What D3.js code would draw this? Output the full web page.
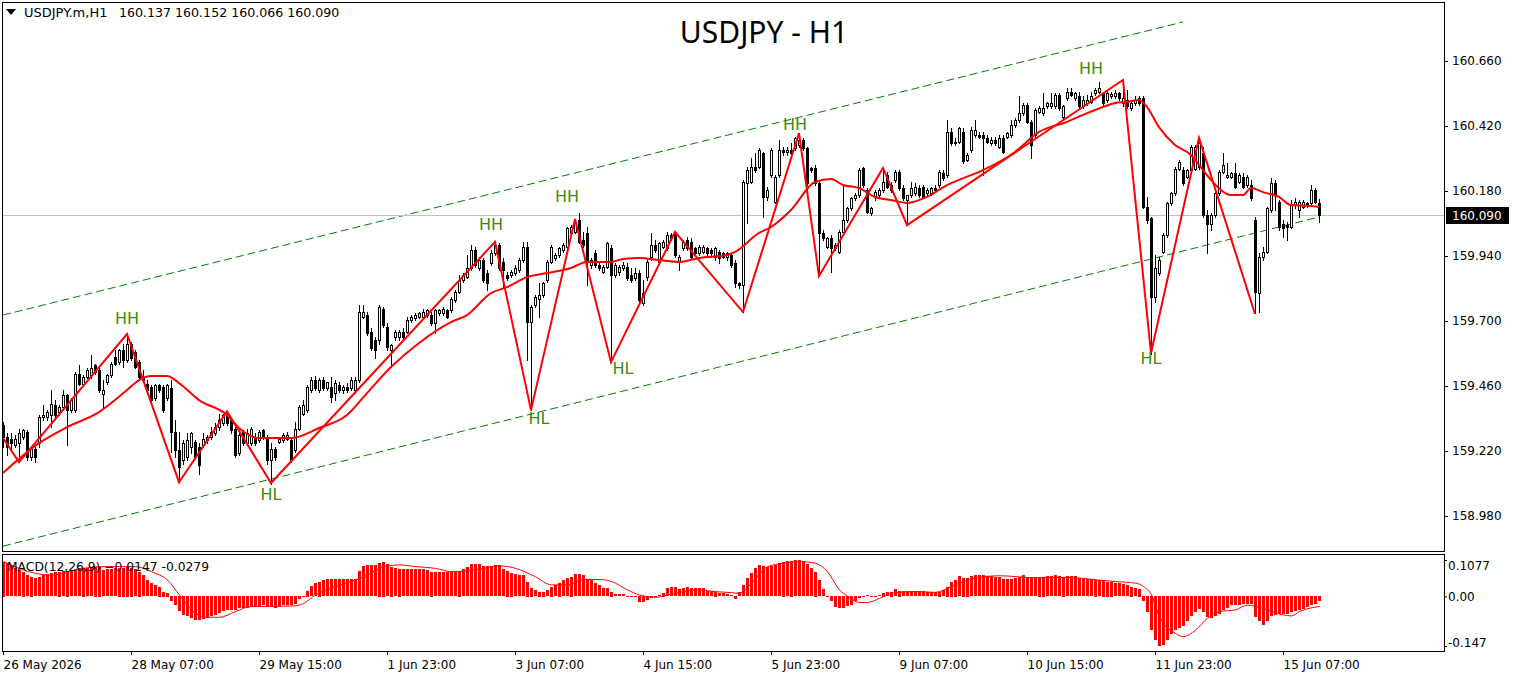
<!DOCTYPE html>
<html>
<head>
<meta charset="utf-8">
<script src="https://cdn.jsdelivr.net/npm/d3@7"></script>
<style>
  body { margin: 0; background: #fff; }
  svg text { font-family: "DejaVu Sans", Verdana, sans-serif; }
</style>
</head>
<body>
<div id="chart"></div>
<script>
// ---- data (USDJPY.m H1, bar 0 = 26 May 23:00) ----
const open = [
159.315,159.272,159.266,159.242,159.248,159.272,159.291,159.198,159.229,159.248,
159.346,159.346,159.352,159.389,159.365,159.383,159.426,159.371,159.371,159.506,
159.469,159.494,159.500,159.537,159.518,159.432,159.475,159.500,159.568,159.549,
159.592,159.555,159.617,159.586,159.549,159.494,159.469,159.457,159.414,159.463,
159.457,159.414,159.451,159.291,159.223,159.186,159.198,159.235,159.254,159.235,
159.242,159.260,159.272,159.285,159.309,159.322,159.358,159.340,159.303,159.211,
159.291,159.248,159.248,159.272,159.260,159.297,159.272,159.186,159.229,159.254,
159.260,159.266,159.260,159.223,159.303,159.358,159.371,159.445,159.484,159.445,
159.482,159.451,159.457,159.433,159.463,159.445,159.457,159.451,159.445,159.482,
159.716,159.722,159.660,159.630,159.630,159.746,159.679,159.593,159.642,159.642,
159.660,159.660,159.703,159.710,159.716,159.716,159.722,159.722,159.691,159.728,
159.728,159.740,159.740,159.777,159.808,159.851,159.863,159.894,159.962,159.894,
159.925,159.876,159.913,159.950,159.980,159.919,159.870,159.870,159.876,159.888,
159.925,159.974,159.697,159.759,159.783,159.796,159.851,159.919,159.931,159.944,
159.962,159.974,160.024,160.030,160.073,159.999,160.024,159.907,159.950,159.907,
159.882,159.900,159.968,159.870,159.882,159.894,159.900,159.870,159.857,159.876,
159.765,159.863,159.937,159.980,159.919,159.974,159.968,160.017,160.024,159.919,
159.968,159.999,159.993,159.968,159.950,159.956,159.968,159.962,159.937,159.956,
159.950,159.937,159.944,159.913,159.839,159.833,160.208,160.214,160.270,160.270,
160.319,160.159,160.239,160.141,160.239,160.331,160.325,160.331,160.337,160.350,
160.368,160.337,160.264,160.264,160.208,160.024,159.974,160.005,159.968,159.956,
160.030,160.073,160.116,160.153,160.165,160.264,160.184,160.097,160.159,160.165,
160.184,160.239,160.202,160.221,160.251,160.190,160.147,160.165,160.171,160.190,
160.196,160.171,160.171,160.190,160.202,160.245,160.239,160.399,160.356,160.362,
160.399,160.295,160.332,160.387,160.387,160.387,160.375,160.356,160.369,160.344,
160.375,160.381,160.387,160.424,160.442,160.467,160.498,160.436,160.387,160.473,
160.467,160.492,160.492,160.492,160.535,160.455,160.522,160.547,160.522,160.529,
160.492,160.504,160.510,160.541,160.547,160.541,160.516,160.531,160.529,160.541,
160.504,160.516,160.485,160.504,160.522,160.522,160.122,160.079,159.790,159.876,
159.956,160.017,160.134,160.171,160.263,160.257,160.233,160.257,160.263,160.270,
160.319,160.091,160.060,160.091,160.171,160.251,160.233,160.233,160.245,160.214,
160.233,160.202,160.202,160.073,159.802,159.937,159.956,160.110,160.208,160.140,
160.060,160.054,160.048,160.128,160.110,160.122,160.134,160.134,160.184,160.137];
const high = [
159.328,159.285,159.285,159.278,159.303,159.303,159.297,159.235,159.235,159.352,
159.389,159.371,159.445,159.408,159.389,159.445,159.432,159.414,159.512,159.537,
159.500,159.525,159.574,159.543,159.525,159.482,159.506,159.549,159.592,159.598,
159.617,159.650,159.623,159.592,159.555,159.518,159.482,159.463,159.469,159.469,
159.463,159.469,159.482,159.334,159.291,159.260,159.285,159.291,159.260,159.248,
159.285,159.278,159.309,159.322,159.358,159.358,159.368,159.346,159.309,159.285,
159.297,159.303,159.309,159.285,159.297,159.303,159.278,159.248,159.235,159.272,
159.285,159.291,159.266,159.328,159.389,159.408,159.463,159.494,159.496,159.488,
159.494,159.476,159.494,159.482,159.476,159.463,159.470,159.494,159.494,159.759,
159.759,159.734,159.673,159.642,159.759,159.753,159.691,159.617,159.666,159.666,
159.673,159.716,159.722,159.728,159.734,159.746,159.746,159.734,159.746,159.746,
159.753,159.746,159.790,159.814,159.870,159.876,159.944,159.980,159.974,159.937,
159.931,159.888,159.962,159.993,159.987,159.931,159.882,159.888,159.907,159.931,
159.993,159.993,159.759,159.796,159.839,159.845,159.925,159.980,159.950,159.974,
159.987,160.048,160.054,160.075,160.097,160.030,160.048,159.931,159.962,159.919,
159.907,159.993,159.980,159.913,159.907,159.919,159.913,159.894,159.894,159.888,
159.851,159.925,160.024,159.999,159.993,159.999,160.030,160.024,160.030,159.944,
159.999,160.011,160.005,159.974,159.980,159.980,159.974,159.968,159.974,159.962,
159.956,159.956,159.950,159.925,159.845,160.221,160.270,160.301,160.319,160.337,
160.325,160.196,160.337,160.239,160.368,160.344,160.344,160.356,160.381,160.393,
160.374,160.344,160.270,160.276,160.214,160.036,160.011,160.017,159.987,160.036,
160.202,160.122,160.159,160.171,160.264,160.270,160.190,160.122,160.184,160.190,
160.266,160.251,160.214,160.257,160.257,160.202,160.165,160.214,160.208,160.202,
160.202,160.190,160.196,160.202,160.257,160.257,160.442,160.411,160.374,160.418,
160.412,160.319,160.418,160.442,160.399,160.399,160.387,160.381,160.381,160.387,
160.387,160.399,160.442,160.448,160.529,160.504,160.504,160.442,160.485,160.492,
160.541,160.510,160.541,160.541,160.541,160.498,160.559,160.559,160.547,160.547,
160.529,160.535,160.547,160.559,160.584,160.547,160.553,160.547,160.553,160.547,
160.590,160.553,160.510,160.529,160.529,160.529,160.159,160.085,159.944,159.937,
160.024,160.140,160.177,160.270,160.294,160.270,160.263,160.350,160.350,160.374,
160.344,160.110,160.097,160.177,160.257,160.319,160.282,160.251,160.282,160.245,
160.245,160.239,160.220,160.085,159.950,159.974,160.122,160.227,160.220,160.147,
160.073,160.067,160.147,160.153,160.147,160.147,160.140,160.202,160.190,160.152];
const low = [
159.235,159.205,159.229,159.235,159.179,159.266,159.186,159.186,159.180,159.235,
159.334,159.334,159.309,159.346,159.352,159.377,159.242,159.365,159.365,159.463,
159.463,159.488,159.488,159.506,159.438,159.383,159.469,159.494,159.537,159.543,
159.531,159.549,159.555,159.525,159.482,159.475,159.432,159.402,159.408,159.438,
159.365,159.408,159.217,159.198,159.106,159.174,159.186,159.211,159.192,159.137,
159.235,159.248,159.266,159.278,159.297,159.315,159.315,159.285,159.198,159.205,
159.242,159.242,159.242,159.242,159.254,159.266,159.174,159.100,159.186,159.248,
159.254,159.260,159.180,159.217,159.297,159.352,159.365,159.438,159.445,159.438,
159.445,159.445,159.402,159.408,159.439,159.433,159.439,159.445,159.433,159.476,
159.710,159.648,159.593,159.562,159.617,159.679,159.593,159.531,159.630,159.630,
159.636,159.654,159.697,159.703,159.710,159.710,159.716,159.685,159.654,159.722,
159.722,159.710,159.734,159.771,159.802,159.845,159.857,159.888,159.900,159.888,
159.845,159.814,159.907,159.944,159.888,159.826,159.851,159.863,159.870,159.882,
159.919,159.556,159.371,159.753,159.716,159.790,159.845,159.913,159.925,159.937,
159.956,159.968,160.018,160.024,159.987,159.974,159.833,159.894,159.900,159.888,
159.876,159.894,159.550,159.863,159.870,159.888,159.851,159.845,159.851,159.759,
159.759,159.851,159.925,159.956,159.913,159.968,159.962,159.999,159.937,159.888,
159.962,159.962,159.931,159.944,159.944,159.950,159.944,159.937,159.925,159.913,
159.931,159.925,159.900,159.827,159.821,159.734,160.061,160.208,160.251,160.264,
160.085,160.147,160.233,160.134,160.233,160.313,160.313,160.307,160.331,160.344,
160.331,160.202,160.251,160.202,159.866,159.999,159.968,159.882,159.962,159.950,
160.024,160.067,160.110,160.147,160.159,160.196,160.097,160.091,160.147,160.159,
160.178,160.190,160.178,160.214,160.184,160.147,160.054,160.159,160.165,160.159,
160.153,160.165,160.165,160.178,160.196,160.221,160.233,160.350,160.350,160.356,
160.282,160.289,160.325,160.381,160.375,160.239,160.356,160.350,160.350,160.338,
160.319,160.375,160.381,160.418,160.436,160.461,160.430,160.301,160.381,160.467,
160.461,160.485,160.485,160.485,160.479,160.449,160.516,160.529,160.516,160.485,
160.485,160.498,160.504,160.535,160.541,160.498,160.510,160.522,160.522,160.516,
160.492,160.485,160.479,160.498,160.498,160.116,160.061,159.580,159.771,159.870,
159.950,160.011,160.128,160.165,160.257,160.202,160.227,160.251,160.257,160.263,
160.085,159.950,160.036,160.085,160.165,160.245,160.227,160.227,160.190,160.208,
160.190,160.196,160.147,159.728,159.734,159.925,159.950,160.104,160.110,160.036,
160.011,159.999,160.042,160.116,160.085,160.116,160.122,160.128,160.134,160.066];
const close = [
159.272,159.235,159.248,159.266,159.285,159.297,159.198,159.229,159.198,159.346,
159.352,159.365,159.395,159.352,159.383,159.426,159.371,159.408,159.506,159.469,
159.494,159.518,159.525,159.512,159.445,159.447,159.500,159.543,159.543,159.592,
159.555,159.617,159.562,159.531,159.494,159.482,159.445,159.408,159.463,159.445,
159.371,159.463,159.291,159.223,159.162,159.248,159.260,159.285,159.198,159.168,
159.266,159.272,159.291,159.309,159.334,159.352,159.322,159.297,159.205,159.278,
159.248,159.285,159.303,159.248,159.291,159.272,159.186,159.229,159.198,159.266,
159.278,159.278,159.186,159.303,159.383,159.389,159.457,159.482,159.451,159.482,
159.451,159.476,159.420,159.470,159.445,159.457,159.445,159.484,159.482,159.734,
159.734,159.654,159.599,159.593,159.753,159.685,159.605,159.611,159.660,159.660,
159.642,159.703,159.716,159.722,159.728,159.734,159.740,159.691,159.740,159.740,
159.746,159.716,159.783,159.808,159.851,159.870,159.894,159.962,159.907,159.925,
159.851,159.839,159.950,159.980,159.894,159.888,159.857,159.882,159.894,159.925,
159.974,159.697,159.753,159.790,159.796,159.839,159.919,159.974,159.944,159.968,
159.980,160.042,160.048,160.067,159.993,159.980,159.919,159.925,159.907,159.894,
159.900,159.987,159.870,159.907,159.900,159.907,159.857,159.851,159.876,159.777,
159.802,159.919,159.980,159.962,159.987,159.993,160.017,160.005,159.944,159.937,
159.993,159.968,159.937,159.950,159.974,159.974,159.950,159.950,159.968,159.931,
159.937,159.950,159.907,159.839,159.833,160.214,160.257,160.270,160.257,160.331,
160.159,160.184,160.331,160.233,160.331,160.325,160.331,160.319,160.374,160.368,
160.337,160.208,160.257,160.208,160.024,160.005,160.005,159.968,159.980,160.030,
160.073,160.116,160.153,160.165,160.257,160.202,160.104,160.116,160.178,160.184,
160.214,160.196,160.184,160.251,160.190,160.153,160.165,160.190,160.196,160.165,
160.159,160.184,160.190,160.184,160.251,160.227,160.399,160.356,160.362,160.411,
160.289,160.313,160.405,160.405,160.381,160.375,160.362,160.369,160.356,160.375,
160.325,160.393,160.424,160.442,160.467,160.498,160.436,160.350,160.479,160.485,
160.485,160.504,160.504,160.535,160.485,160.492,160.547,160.535,160.541,160.492,
160.516,160.516,160.529,160.553,160.559,160.504,160.541,160.537,160.541,160.522,
160.522,160.492,160.504,160.516,160.504,160.122,160.073,159.790,159.894,159.925,
160.017,160.134,160.171,160.263,160.288,160.208,160.257,160.344,160.344,160.356,
160.091,160.060,160.091,160.171,160.251,160.276,160.239,160.245,160.196,160.239,
160.196,160.233,160.153,159.808,159.937,159.956,160.116,160.208,160.165,160.048,
160.042,160.048,160.128,160.140,160.140,160.140,160.128,160.184,160.140,160.090];

// MACD(12,26,9) main histogram, one value per bar
const macd = [
0.103,0.098,0.093,0.083,0.078,0.073,0.063,0.058,0.053,0.056,
0.063,0.066,0.068,0.071,0.073,0.075,0.076,0.078,0.081,0.083,
0.085,0.083,0.086,0.088,0.088,0.078,0.080,0.081,0.083,0.085,
0.085,0.088,0.085,0.080,0.073,0.063,0.048,0.039,0.034,0.029,
0.014,0.011,-0.014,-0.026,-0.045,-0.055,-0.058,-0.065,-0.072,-0.072,
-0.068,-0.065,-0.060,-0.055,-0.050,-0.045,-0.042,-0.040,-0.040,-0.037,
-0.037,-0.035,-0.030,-0.030,-0.030,-0.028,-0.030,-0.033,-0.035,-0.030,
-0.028,-0.028,-0.028,-0.023,-0.009,-0.003,0.017,0.031,0.039,0.044,
0.048,0.050,0.050,0.050,0.050,0.050,0.050,0.050,0.050,0.075,
0.090,0.093,0.093,0.093,0.100,0.103,0.096,0.088,0.083,0.082,
0.081,0.081,0.081,0.081,0.080,0.080,0.078,0.073,0.072,0.072,
0.072,0.072,0.072,0.072,0.076,0.080,0.086,0.096,0.096,0.096,
0.090,0.090,0.090,0.093,0.093,0.080,0.076,0.070,0.066,0.063,
0.063,0.044,0.026,0.019,0.014,0.014,0.019,0.029,0.034,0.041,
0.047,0.054,0.058,0.065,0.065,0.063,0.051,0.051,0.039,0.034,
0.024,0.024,0.014,0.007,0.007,0.006,0.002,-0.001,-0.003,-0.019,
-0.019,-0.013,-0.006,-0.001,0.004,0.011,0.024,0.027,0.027,0.021,
0.024,0.027,0.024,0.024,0.024,0.024,0.016,0.016,0.014,0.009,
0.009,0.007,0.004,-0.009,0.012,0.034,0.053,0.068,0.083,0.093,
0.090,0.086,0.090,0.093,0.098,0.103,0.105,0.106,0.108,0.108,
0.105,0.095,0.083,0.073,0.047,0.021,0.002,-0.016,-0.032,-0.035,
-0.035,-0.030,-0.026,-0.016,-0.006,-0.001,0.004,-0.001,0.001,0.004,
0.011,0.012,0.014,0.021,0.017,0.016,0.016,0.016,0.016,0.016,
0.016,0.012,0.012,0.012,0.014,0.019,0.029,0.044,0.049,0.060,
0.055,0.055,0.060,0.063,0.063,0.063,0.060,0.060,0.056,0.056,
0.051,0.051,0.051,0.053,0.056,0.063,0.056,0.056,0.056,0.058,
0.058,0.060,0.060,0.063,0.060,0.055,0.060,0.060,0.060,0.053,
0.051,0.051,0.051,0.049,0.047,0.046,0.044,0.043,0.039,0.039,
0.036,0.034,0.029,0.024,0.023,-0.016,-0.048,-0.100,-0.129,-0.147,
-0.144,-0.131,-0.114,-0.100,-0.095,-0.088,-0.075,-0.060,-0.048,-0.038,
-0.048,-0.062,-0.065,-0.060,-0.052,-0.042,-0.035,-0.028,-0.026,-0.026,
-0.024,-0.023,-0.024,-0.062,-0.075,-0.085,-0.075,-0.060,-0.055,-0.052,
-0.052,-0.053,-0.047,-0.045,-0.040,-0.038,-0.033,-0.028,-0.024,-0.0147];

// MACD signal line, read at [bar, value]
const signalPts = [
[0,0.103],[8,0.068],[12,0.063],[20,0.083],[24,0.088],[33,0.088],[37,0.073],[41,0.048],
[44,0.004],[48,-0.050],[51,-0.062],[54,-0.062],[58,-0.045],[62,-0.030],[66,-0.030],
[73,-0.028],[75,-0.021],[78,0.004],[83,0.029],[87,0.044],[91,0.063],[95,0.088],
[99,0.093],[103,0.088],[108,0.083],[112,0.073],[116,0.076],[120,0.083],[124,0.090],
[128,0.083],[133,0.058],[137,0.034],[141,0.034],[145,0.050],[149,0.050],[152,0.044],
[156,0.019],[159,0.004],[163,-0.003],[166,0.004],[170,0.014],[174,0.019],[178,0.014],
[182,0.011],[184,0.009],[187,0.039],[191,0.088],[195,0.098],[199,0.103],[203,0.098],
[206,0.073],[209,0.019],[211,0.001],[214,-0.018],[216,-0.018],[219,-0.006],[221,0.004],
[223,0.011],[228,0.014],[233,0.012],[237,0.029],[241,0.048],[245,0.058],[249,0.061],
[258,0.055],[266,0.056],[270,0.053],[274,0.048],[278,0.044],[283,0.039],[285,0.029],
[287,0.004],[289,-0.060],[293,-0.110],[295,-0.119],[298,-0.100],[301,-0.065],
[304,-0.045],[308,-0.040],[311,-0.026],[313,-0.030],[316,-0.040],[320,-0.055],
[322,-0.058],[324,-0.045],[329,-0.030]];

// moving average on price, read at [bar, price]
const maPts = [
[0,159.139],[9,159.249],[16,159.308],[24,159.364],[31,159.445],[34,159.482],[37,159.497],
[41,159.497],[44,159.471],[49,159.408],[56,159.353],[59,159.305],[64,159.268],[72,159.268],
[79,159.305],[86,159.353],[91,159.434],[97,159.530],[104,159.619],[112,159.696],[116,159.722],
[122,159.803],[126,159.825],[131,159.862],[136,159.877],[142,159.896],[146,159.918],
[152,159.918],[155,159.929],[159,159.933],[164,159.925],[169,159.918],[174,159.933],
[181,159.944],[183,159.955],[189,160.025],[192,160.047],[197,160.110],[203,160.213],
[207,160.224],[210,160.202],[214,160.191],[218,160.158],[222,160.147],[226,160.136],
[231,160.158],[236,160.202],[239,160.221],[245,160.257],[253,160.324],[259,160.398],
[266,160.435],[270,160.461],[275,160.490],[278,160.505],[281,160.509],[284,160.516],
[286,160.490],[289,160.416],[293,160.350],[297,160.313],[299,160.276],[302,160.221],
[307,160.165],[310,160.165],[312,160.191],[315,160.176],[319,160.158],[322,160.128],
[327,160.125],[329,160.121]];

// zigzag pivots
const zzBars   = [0, 4, 31, 44, 56, 67, 123, 132, 143, 152, 168, 185, 199, 204, 220, 226, 280, 287, 299, 313];
const zzPrices = [159.268,159.179,159.652,159.105,159.367,159.102,159.992,159.371,160.077,159.548,
                  160.029,159.733,160.394,159.866,160.265,160.054,160.590,159.582,160.376,159.726];

// swing labels
const swText  = ["HH","HH","HH","HH","HH","HL","HL","HL","HL"];
const swBar   = [31, 122, 141, 198, 272, 67, 134, 155, 287];
const swPrice = [159.711,160.058,160.161,160.427,160.634,159.061,159.342,159.526,159.563];

// channel lines [bar0, bar1], [price0, price1]
const upperBars = [0, 295], upperPrices = [159.722, 160.804];
const lowerBars = [0, 329], lowerPrices = [158.869, 160.084];

const priceTicks = [160.660,160.420,160.180,159.940,159.700,159.460,159.220,158.980];
const macdTicks  = [0.1077, 0, -0.147];
const macdTickLabels = ["0.1077", "0.00", "-0.147"];
const dateBars   = [0,32,64,96,128,160,192,224,256,288,320];
const dateLabels = ["26 May 2026","28 May 07:00","29 May 15:00","1 Jun 23:00","3 Jun 07:00",
                    "4 Jun 15:00","5 Jun 23:00","9 Jun 07:00","10 Jun 15:00","11 Jun 23:00","15 Jun 07:00"];

// ---- chart ----
const W = 1517, H = 679;
const svg = d3.select("#chart").append("svg").attr("width", W).attr("height", H);

const x  = d3.scaleLinear().domain([0, 360]).range([3, 1443]);
const y  = d3.scaleLinear().domain([158.851, 160.874]).range([551, 3]);
const ym = d3.scaleLinear().domain([-0.147, 0.1077]).range([646, 560]);
const bars = d3.range(close.length);
const xc = i => Math.round(x(i));

// frames
svg.append("rect").attr("x", 2.5).attr("y", 2.5).attr("width", 1442).attr("height", 549)
  .attr("fill", "none").attr("stroke", "#000");
svg.append("rect").attr("x", 2.5).attr("y", 554.5).attr("width", 1442).attr("height", 97)
  .attr("fill", "none").attr("stroke", "#000");

const plot = svg.append("g");
plot.append("clipPath").attr("id", "clipMain").append("rect")
  .attr("x", 3).attr("y", 3).attr("width", 1441).attr("height", 548);
const main = plot.append("g").attr("clip-path", "url(#clipMain)");

// channel
const chan = d3.line().x(d => x(d[0])).y(d => y(d[1]));
[[upperBars, upperPrices], [lowerBars, lowerPrices]].forEach(([b, p]) => {
  main.append("path").attr("d", chan(b.map((v, k) => [v, p[k]])))
    .attr("fill", "none").attr("stroke", "#008000").attr("stroke-width", 1)
    .attr("stroke-dasharray", "8,4");
});

// last price line
const lastY = Math.round(y(close[close.length - 1])) + 0.5;
main.append("line").attr("x1", 3).attr("x2", 1444).attr("y1", lastY).attr("y2", lastY)
  .attr("stroke", "#c0c0c0");

// candles
const cg = main.append("g");
cg.selectAll("line").data(bars).join("line")
  .attr("x1", i => xc(i) + 0.5).attr("x2", i => xc(i) + 0.5)
  .attr("y1", i => Math.round(y(high[i])))
  .attr("y2", i => Math.round(y(low[i])) + 1)
  .attr("stroke", "#000");
cg.selectAll("rect").data(bars).join("rect")
  .each(function (i) {
    const yo = Math.round(y(open[i])), yc = Math.round(y(close[i]));
    const top = Math.min(yo, yc), h = Math.max(Math.abs(yo - yc), 1);
    const r = d3.select(this);
    if (close[i] >= open[i]) {
      r.attr("x", xc(i) - 0.5).attr("y", top + 0.5).attr("width", 2).attr("height", h)
        .attr("fill", "#fff").attr("stroke", "#000");
    } else {
      r.attr("x", xc(i) - 1).attr("y", top).attr("width", 3).attr("height", h + 1)
        .attr("fill", "#000");
    }
  });

// moving average
main.append("path")
  .attr("d", d3.line().x(d => x(d[0])).y(d => y(d[1])).curve(d3.curveMonotoneX)(maPts))
  .attr("fill", "none").attr("stroke", "#ff0000").attr("stroke-width", 2);

// zigzag
main.append("path")
  .attr("d", d3.line().x(d => x(d[0])).y(d => y(d[1]))(zzBars.map((b, k) => [b, zzPrices[k]])))
  .attr("fill", "none").attr("stroke", "#ff0000").attr("stroke-width", 2);

// HH / HL labels
main.selectAll("text.sw").data(swText).join("text").attr("class", "sw")
  .attr("x", (d, k) => x(swBar[k])).attr("y", (d, k) => y(swPrice[k]))
  .attr("dy", "0.36em").attr("text-anchor", "middle")
  .attr("font-size", 16).attr("fill", "#3a8a10").text(d => d);

// price axis
const pa = svg.append("g").attr("transform", "translate(1444,0)")
  .call(d3.axisRight(y).tickValues(priceTicks).tickSize(4).tickPadding(4).tickFormat(d3.format(".3f")));
pa.select(".domain").remove();
pa.selectAll("text").attr("font-size", 12).attr("font-family", "DejaVu Sans").attr("fill", "#000");

// current price tag
svg.append("rect").attr("x", 1446).attr("y", lastY - 8.5).attr("width", 63).attr("height", 17).attr("fill", "#000");
svg.append("text").attr("x", 1452).attr("y", lastY).attr("dy", "0.36em")
  .attr("font-size", 12).attr("fill", "#fff").text(d3.format(".3f")(close[close.length - 1]));

// MACD panel
svg.append("clipPath").attr("id", "clipMacd").append("rect")
  .attr("x", 3).attr("y", 555).attr("width", 1441).attr("height", 96);
const mg = svg.append("g").attr("clip-path", "url(#clipMacd)");
mg.selectAll("rect").data(bars).join("rect")
  .attr("x", i => xc(i) - 1).attr("width", 3)
  .attr("y", i => Math.round(Math.min(ym(macd[i]), ym(0))))
  .attr("height", i => Math.max(1, Math.round(Math.abs(ym(macd[i]) - ym(0)))))
  .attr("fill", "#ff0000");
mg.append("path")
  .attr("d", d3.line().x(d => x(d[0]) + 0.5).y(d => ym(d[1])).curve(d3.curveMonotoneX)(signalPts))
  .attr("fill", "none").attr("stroke", "#ff0000").attr("stroke-width", 1);

const ma = svg.append("g").attr("transform", "translate(1444,0)")
  .call(d3.axisRight(ym).tickValues(macdTicks).tickSize(3).tickPadding(1)
    .tickFormat((d, k) => macdTickLabels[k]));
ma.select(".domain").remove();
ma.selectAll("text").attr("font-size", 12).attr("font-family", "DejaVu Sans").attr("fill", "#000")
  .attr("dy", (d, k) => k === 0 ? "0.75em" : k === 2 ? "0em" : "0.36em");

svg.append("text").attr("x", 7).attr("y", 571).attr("font-size", 12.3).attr("fill", "#000")
  .text("MACD(12,26,9) " + d3.format(".4f")(macd[macd.length - 1]) + " -0.0279");

// time axis
const ta = svg.append("g").attr("transform", "translate(0,651)")
  .call(d3.axisBottom(x).tickValues(dateBars).tickSize(4).tickPadding(5)
    .tickFormat((d, k) => dateLabels[k]));
ta.select(".domain").remove();
ta.selectAll("text").attr("text-anchor", "start").attr("font-size", 12)
  .attr("font-family", "DejaVu Sans").attr("fill", "#000");

// header + title
svg.append("path").attr("d", "M6,9L16,9L11,15Z").attr("fill", "#000");
svg.append("text").attr("x", 24).attr("y", 17).attr("font-size", 13).attr("fill", "#000").text("USDJPY.m,H1");
svg.append("text").attr("x", 119).attr("y", 17).attr("font-size", 12.6).attr("fill", "#000")
  .text([open, high, low, close].map(a => d3.format(".3f")(a[a.length - 1])).join(" "));
svg.append("text").attr("x", 764).attr("y", 43).attr("text-anchor", "middle")
  .attr("font-size", 30).style("font-family", "'Comic Sans MS', 'Noto Sans', sans-serif")
  .attr("fill", "#000").text("USDJPY - H1");
</script>
</body>
</html>
